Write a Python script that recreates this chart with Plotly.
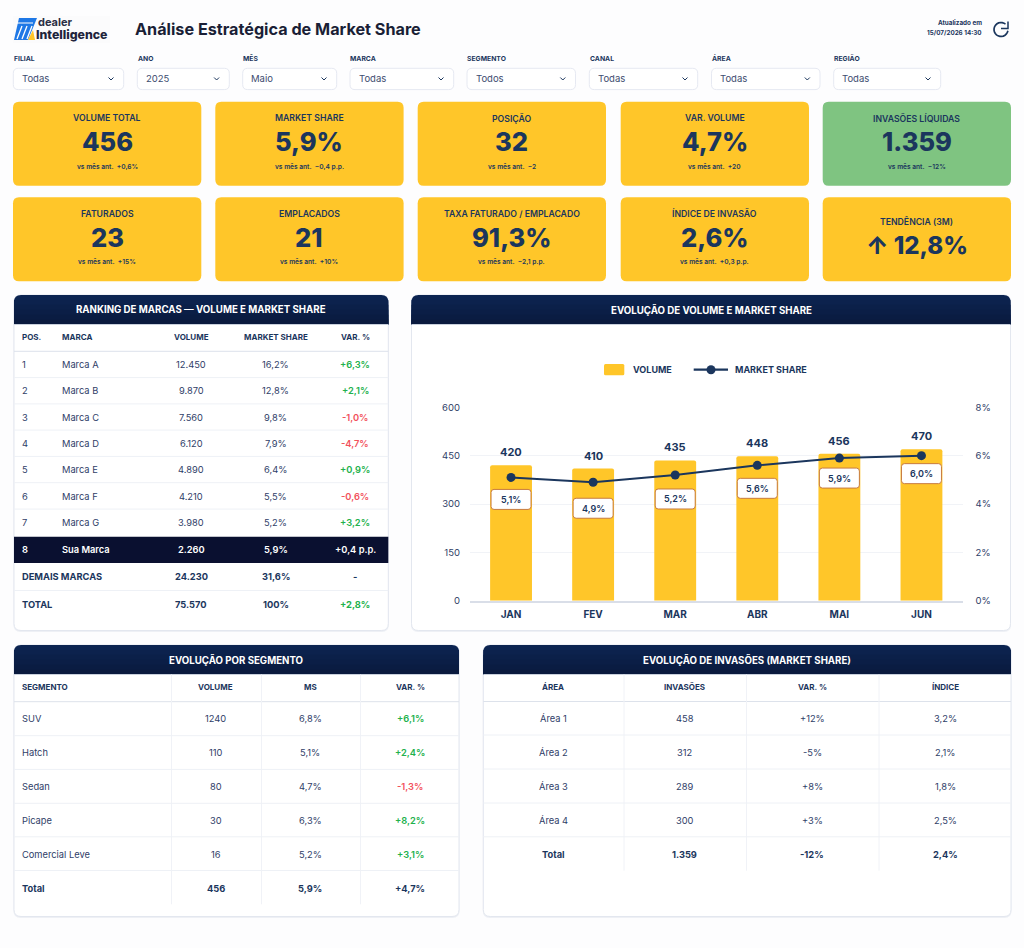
import math
import plotly.graph_objects as go

# ---------- data ----------
MONTHS = ["JAN", "FEV", "MAR", "ABR", "MAI", "JUN"]
VOLUME = [420, 410, 435, 448, 456, 470]
SHARE = [5.1, 4.9, 5.2, 5.6, 5.9, 6.0]

FILTER_LABELS = ["FILIAL", "ANO", "MÊS", "MARCA", "SEGMENTO", "CANAL", "ÁREA", "REGIÃO"]
FILTER_VALUES = ["Todas", "2025", "Maio", "Todas", "Todos", "Todas", "Todas", "Todas"]

KPI_LABELS = ["VOLUME TOTAL", "MARKET SHARE", "POSIÇÃO", "VAR. VOLUME", "INVASÕES LÍQUIDAS",
              "FATURADOS", "EMPLACADOS", "TAXA FATURADO / EMPLACADO", "ÍNDICE DE INVASÃO", "TENDÊNCIA (3M)"]
KPI_VALUES = ["456", "5,9%", "32", "4,7%", "1.359", "23", "21", "91,3%", "2,6%", "↑ 12,8%"]
KPI_SUBS = ["vs mês ant.\u00a0\u00a0+0,6%", "vs mês ant.\u00a0\u00a0−0,4 p.p.", "vs mês ant.\u00a0\u00a0−2",
            "vs mês ant.\u00a0\u00a0+20", "vs mês ant.\u00a0\u00a0−12%", "vs mês ant.\u00a0\u00a0+15%",
            "vs mês ant.\u00a0\u00a0+10%", "vs mês ant.\u00a0\u00a0−2,1 p.p.", "vs mês ant.\u00a0\u00a0+0,3 p.p.", ""]

RANK_HEAD = ["POS.", "MARCA", "VOLUME", "MARKET SHARE", "VAR. %"]
RANK_POS = ["1", "2", "3", "4", "5", "6", "7", "8", "DEMAIS MARCAS", "TOTAL"]
RANK_BRAND = ["Marca A", "Marca B", "Marca C", "Marca D", "Marca E", "Marca F", "Marca G", "Sua Marca", "", ""]
RANK_VOL = ["12.450", "9.870", "7.560", "6.120", "4.890", "4.210", "3.980", "2.260", "24.230", "75.570"]
RANK_MS = ["16,2%", "12,8%", "9,8%", "7,9%", "6,4%", "5,5%", "5,2%", "5,9%", "31,6%", "100%"]
RANK_VAR = ["+6,3%", "+2,1%", "-1,0%", "-4,7%", "+0,9%", "-0,6%", "+3,2%", "+0,4 p.p.", "-", "+2,8%"]

SEG_HEAD = ["SEGMENTO", "VOLUME", "MS", "VAR. %"]
SEG_NAME = ["SUV", "Hatch", "Sedan", "Picape", "Comercial Leve", "Total"]
SEG_VOL = ["1240", "110", "80", "30", "16", "456"]
SEG_MS = ["6,8%", "5,1%", "4,7%", "6,3%", "5,2%", "5,9%"]
SEG_VAR = ["+6,1%", "+2,4%", "-1,3%", "+8,2%", "+3,1%", "+4,7%"]

INV_HEAD = ["ÁREA", "INVASÕES", "VAR. %", "ÍNDICE"]
INV_NAME = ["Área 1", "Área 2", "Área 3", "Área 4", "Total"]
INV_VAL = ["458", "312", "289", "300", "1.359"]
INV_VAR = ["+12%", "-5%", "+8%", "+3%", "-12%"]
INV_IDX = ["3,2%", "2,1%", "1,8%", "2,5%", "2,4%"]

# ---------- style / layout ----------
W, H = 1024, 948
FONT = "Inter"
NAVY = "#1B365D"
BODY = "#2F4068"
DARK = "#1A1F36"
YELLOW = "#FFC629"
GREENCARD = "#7FC481"
GREEN = "#22B14C"
RED = "#F2525C"
LINE = "#EEF1F6"
BORDER = "#E3E7EF"
PILL_OFFSET = [22, 26, 24, 23, 20, 18]  # label box distance below line point, px


def X(v):
    return v / W


def Y(v):
    return 1 - v / H


shapes = []
ann = []


def text(x, y, s, size=10, color=BODY, weight=400, anchor="center"):
    if anchor == "left":
        x -= 1
    ann.append(dict(x=X(x), y=Y(y), xref="paper", yref="paper", text=s, showarrow=False,
                    xanchor=anchor, yanchor="middle", borderpad=0,
                    font=dict(family=FONT, size=size, color=color, weight=weight)))


def rpath(x0, y0, x1, y1, r=5, top_only=False):
    rb = 0 if top_only else r
    s = f"M{X(x0 + r)},{Y(y0)} L{X(x1 - r)},{Y(y0)} Q{X(x1)},{Y(y0)} {X(x1)},{Y(y0 + r)} "
    s += f"L{X(x1)},{Y(y1 - rb)} "
    if rb:
        s += f"Q{X(x1)},{Y(y1)} {X(x1 - rb)},{Y(y1)} "
    s += f"L{X(x0 + rb)},{Y(y1)} "
    if rb:
        s += f"Q{X(x0)},{Y(y1)} {X(x0)},{Y(y1 - rb)} "
    s += f"L{X(x0)},{Y(y0 + r)} Q{X(x0)},{Y(y0)} {X(x0 + r)},{Y(y0)} Z"
    return s


def box(x0, y0, x1, y1, fill="#FFFFFF", line=None, r=5, top_only=False, lw=1):
    shapes.append(dict(type="path", path=rpath(x0, y0, x1, y1, r, top_only), xref="paper", yref="paper",
                       fillcolor=fill, line=dict(color=line or "rgba(0,0,0,0)", width=lw if line else 0),
                       layer="below"))


def rect(x0, y0, x1, y1, fill):
    shapes.append(dict(type="rect", x0=X(x0), x1=X(x1), y0=Y(y0), y1=Y(y1), xref="paper", yref="paper",
                       fillcolor=fill, line=dict(width=0), layer="below"))


def seg(x0, y0, x1, y1, color=LINE, width=1):
    shapes.append(dict(type="line", x0=X(x0), x1=X(x1), y0=Y(y0), y1=Y(y1), xref="paper", yref="paper",
                       line=dict(color=color, width=width), layer="below"))


def poly(points, color=NAVY, width=1.2, fill=None, close=False):
    d = "M" + " L".join(f"{X(a)},{Y(b)}" for a, b in points) + (" Z" if close else "")
    shapes.append(dict(type="path", path=d, xref="paper", yref="paper",
                       fillcolor=fill or "rgba(0,0,0,0)",
                       line=dict(color=color if width else "rgba(0,0,0,0)", width=width), layer="below"))


def panel(x0, y0, x1, y1, title, head_h=29.5):
    box(x0 - 0.5, y0 + 1, x1 + 0.5, y1 + 1.5, fill="#EEF0F5", r=7)
    box(x0, y0, x1, y1, fill="#FFFFFF", line=BORDER, r=7)
    cols = ["#0C2451", "#0C224D", "#0B2049", "#0B1E46", "#0A1C42", "#0A1A3E"]
    h = head_h / len(cols)
    box(x0, y0, x1, y0 + head_h, fill=cols[0], r=7, top_only=True)
    for i in range(1, len(cols)):
        rect(x0, y0 + i * h, x1, y0 + head_h, cols[i])
    seg(x0, y0 + head_h, x1, y0 + head_h, "#C9D0DC", 1)
    text((x0 + x1) / 2, y0 + head_h / 2, title, size=9.7, color="#FFFFFF", weight=700)


# ---------- header ----------
rect(13, 16, 110, 43, "#FBFBFC")
poly([(19, 18), (37, 18), (28, 40), (14, 40)], color="#1E78E6", width=0, fill="#1E78E6", close=True)
for a in (20, 25, 30):
    poly([(a + 2, 26), (a - 3, 39)], color="#FFFFFF", width=1.3)
poly([(16, 23), (33, 23)], color="#FFFFFF", width=1)
poly([(33, 30), (35, 40), (28, 40)], color=YELLOW, width=0, fill=YELLOW, close=True)
text(37.5, 22, "dealer", size=11, color="#2B2F45", weight=700, anchor="left")
text(36, 34.5, "Intelligence", size=12.3, color="#20233B", weight=800, anchor="left")
text(135, 29.5, "Análise Estratégica de Market Share", size=16.2, color=DARK, weight=700, anchor="left")
text(983, 23.5, "Atualizado em", size=6.3, color=NAVY, weight=700, anchor="right")
text(983, 32.5, "15/07/2026 14:30", size=6.3, color=NAVY, weight=700, anchor="right")
# refresh icon
arc = [(1001 + 7 * math.cos(math.radians(t)), 29.5 - 7 * math.sin(math.radians(t))) for t in range(50, 351, 15)]
poly(arc, color=NAVY, width=1.7)
poly([(1008, 21.5), (1008, 28.5), (1001, 28.5)], color=NAVY, width=1.5)

# ---------- filters ----------
FILTER_X = [(13.3, 123.7), (137.3, 229.3), (242.7, 336.7), (350, 453.7),
            (467, 575.5), (589.3, 697.7), (711.5, 820), (833.7, 940.7)]
for (a, b), lab, val in zip(FILTER_X, FILTER_LABELS, FILTER_VALUES):
    text(a + 0.3, 58.5, lab, size=6.8, color=NAVY, weight=700, anchor="left")
    box(a, 68.3, b, 89.6, fill="#FFFFFF", line="#E6E9F2", r=5)
    text(a + 8.7, 78.7, val, size=9.5, color="#3D4C6F", weight=400, anchor="left")
    poly([(b - 15.2, 77.5), (b - 12.7, 80), (b - 10.2, 77.5)], color=NAVY, width=1)

# ---------- KPI cards ----------
CARD_X = [13, 215.3, 417.7, 620.7, 822.7]
CARD_W = 188.3
for i, lab in enumerate(KPI_LABELS):
    row, col = divmod(i, 5)
    x0 = CARD_X[col]
    y0 = 101.7 + row * 95.6
    fill = GREENCARD if i == 4 else YELLOW
    box(x0, y0, x0 + CARD_W, y0 + 84, fill=fill, r=6)
    cx = x0 + CARD_W / 2
    if i == 9:
        text(cx, y0 + 24.3, lab, size=8.7, color=NAVY, weight=600)
        text(cx, y0 + 48, KPI_VALUES[i], size=24, color=NAVY, weight=800)
    else:
        text(cx, y0 + 16.3, lab, size=8.7, color=NAVY, weight=600)
        text(cx, y0 + 39.8, KPI_VALUES[i], size=25.5, color=NAVY, weight=800)
        text(cx, y0 + 65.2, KPI_SUBS[i], size=6.6, color=NAVY, weight=600)

# ---------- ranking table ----------
panel(14, 295, 388.3, 630.5, "RANKING DE MARCAS — VOLUME E MARKET SHARE")
RANK_COLS = (22.3, 62, 191, 275.5, 355)
for j, h in enumerate(RANK_HEAD):
    text(RANK_COLS[j], 336.7, h, size=8, color=NAVY, weight=700, anchor="left" if j < 2 else "center")
seg(14, 351.3, 388.3, 351.3, "#DDE2EB", 1)
RANK_Y = [364.5, 390.8, 417, 443.3, 469.6, 496, 522.3, 549.5, 576.5, 604.3]
rect(14, 536.7, 388.3, 563, "#0A1030")
for i in range(len(RANK_POS)):
    yy = RANK_Y[i]
    own = i == 7
    agg = i >= 8
    if i < 6:
        seg(14, yy + 13.1, 388.3, yy + 13.1)
    if i == 8:
        seg(14, 590.5, 388.3, 590.5)
    c = "#FFFFFF" if own else (NAVY if agg else BODY)
    w = 700 if agg else (600 if own else 400)
    text(RANK_COLS[0], yy, RANK_POS[i], size=9.3, color=c, weight=w, anchor="left")
    text(RANK_COLS[1], yy, RANK_BRAND[i], size=9.3, color=c, weight=w, anchor="left")
    text(RANK_COLS[2], yy, RANK_VOL[i], size=9.3, color=c, weight=w)
    text(RANK_COLS[3], yy, RANK_MS[i], size=9.3, color=c, weight=w)
    v = RANK_VAR[i]
    vc = "#FFFFFF" if own else (NAVY if v == "-" else (GREEN if v.startswith("+") else RED))
    text(RANK_COLS[4], yy, v, size=9.3, color=vc, weight=600 if not agg else 700)

# ---------- chart panel ----------
panel(411.5, 295, 1010.5, 630.5, "EVOLUÇÃO DE VOLUME E MARKET SHARE")
box(604, 364, 624.3, 375.3, fill=YELLOW, r=1.5)
text(632.5, 369.7, "VOLUME", size=9, color=NAVY, weight=700, anchor="left")
seg(693.7, 369.7, 728, 369.7, NAVY, 2.2)
shapes.append(dict(type="circle", x0=X(706.5), x1=X(715.5), y0=Y(365.2), y1=Y(374.2), xref="paper", yref="paper",
                   fillcolor=NAVY, line=dict(width=0), layer="below"))
text(735.3, 369.7, "MARKET SHARE", size=9, color=NAVY, weight=700, anchor="left")

fig = go.Figure()
fig.add_trace(go.Bar(x=MONTHS, y=VOLUME, name="Volume", marker=dict(color=YELLOW, cornerradius=2, line=dict(width=0)),
                     hoverinfo="skip", yaxis="y"))
fig.add_trace(go.Scatter(x=MONTHS, y=SHARE, name="Market Share", mode="lines+markers", yaxis="y2",
                         line=dict(color=NAVY, width=2), marker=dict(color=NAVY, size=9), hoverinfo="skip"))

for m, v, s, off in zip(MONTHS, VOLUME, SHARE, PILL_OFFSET):
    ann.append(dict(x=m, y=v, xref="x", yref="y", text=str(v), showarrow=False, yshift=13, yanchor="middle",
                    font=dict(family=FONT, size=11, color=NAVY, weight=700)))
    bw, bh, r = 20, 10, 3
    yc = -off
    d = (f"M{-bw + r},{yc + bh} L{bw - r},{yc + bh} Q{bw},{yc + bh} {bw},{yc + bh - r} L{bw},{yc - bh + r} "
         f"Q{bw},{yc - bh} {bw - r},{yc - bh} L{-bw + r},{yc - bh} Q{-bw},{yc - bh} {-bw},{yc - bh + r} "
         f"L{-bw},{yc + bh - r} Q{-bw},{yc + bh} {-bw + r},{yc + bh} Z")
    shapes.append(dict(type="path", path=d, xref="x", yref="y2", xsizemode="pixel", ysizemode="pixel",
                       xanchor=m, yanchor=s, fillcolor="#FFFFFF", line=dict(color="#C77B3F", width=1), layer="above"))
    ann.append(dict(x=m, y=s, xref="x", yref="y2", text=f"{s:.1f}%".replace(".", ","), showarrow=False,
                    yshift=-off, yanchor="middle",
                    font=dict(family=FONT, size=9, color=NAVY, weight=600)))

# ---------- segment table ----------
panel(14, 645, 459, 916.5, "EVOLUÇÃO POR SEGMENTO")
SEG_COLS = (22.3, 215.5, 310, 410)
text(SEG_COLS[0], 687, SEG_HEAD[0], size=8, color=NAVY, weight=700, anchor="left")
for j in (1, 2, 3):
    text(SEG_COLS[j], 687, SEG_HEAD[j], size=8, color=NAVY, weight=700)
seg(14, 701.7, 459, 701.7, "#DDE2EB", 1)
for xs in (171.5, 261.5, 360.5):
    seg(xs, 674.5, xs, 904.3, "#F0F2F7", 1)
SEG_Y = [718.5, 752, 786, 820, 854, 888]
for yl in (735.7, 769.4, 803.3, 836.8, 870.5):
    seg(14, yl, 459, yl)
for i, n in enumerate(SEG_NAME):
    tot = i == len(SEG_NAME) - 1
    c = NAVY if tot else BODY
    w = 700 if tot else 400
    text(SEG_COLS[0], SEG_Y[i], n, size=9.3, color=c, weight=w, anchor="left")
    text(SEG_COLS[1], SEG_Y[i], SEG_VOL[i], size=9.3, color=c, weight=w)
    text(SEG_COLS[2], SEG_Y[i], SEG_MS[i], size=9.3, color=c, weight=w)
    vc = NAVY if tot else (GREEN if SEG_VAR[i].startswith("+") else RED)
    text(SEG_COLS[3], SEG_Y[i], SEG_VAR[i], size=9.3, color=vc, weight=700 if tot else 600)

# ---------- invasions table ----------
panel(483.3, 645, 1011, 916.5, "EVOLUÇÃO DE INVASÕES (MARKET SHARE)")
INV_COLS = (553, 684.5, 812, 945)
for j in range(4):
    text(INV_COLS[j], 687, INV_HEAD[j], size=8, color=NAVY, weight=700)
seg(483.3, 701.5, 1011, 701.5, "#DDE2EB", 1)
for xs in (624, 746.5, 879):
    seg(xs, 674.5, xs, 870.7, "#F0F2F7", 1)
for yl in (735, 769, 803, 836.8):
    seg(483.3, yl, 1011, yl)
for i, n in enumerate(INV_NAME):
    tot = i == len(INV_NAME) - 1
    c = NAVY if tot else BODY
    w = 700 if tot else 400
    for cx, v in zip(INV_COLS, (n, INV_VAL[i], INV_VAR[i], INV_IDX[i])):
        text(cx, SEG_Y[i], v, size=9.3, color=c, weight=w)

# ---------- layout ----------
fig.update_layout(
    width=W, height=H, autosize=False, margin=dict(l=0, r=0, t=0, b=0, pad=0, autoexpand=False),
    paper_bgcolor="#FDFDFE", plot_bgcolor="rgba(0,0,0,0)", showlegend=False,
    bargap=0.49, shapes=shapes, annotations=ann,
    font=dict(family=FONT, color=NAVY),
    xaxis=dict(domain=[X(470), X(962.5)], type="category", categoryorder="array", categoryarray=MONTHS,
               automargin=False, showgrid=False, zeroline=False, showline=True, linecolor="#D9DEE8", linewidth=2,
               ticks="", tickfont=dict(family=FONT, size=10, color=NAVY, weight=700), ticklabelstandoff=3,
               fixedrange=True),
    yaxis=dict(domain=[Y(600.7), Y(407.3)], range=[0, 600], dtick=150, gridcolor="#F1F3F7", gridwidth=1,
               automargin=False, zeroline=False, showline=False, ticks="",
               tickfont=dict(family=FONT, size=9.5, color=BODY), ticklabelstandoff=9, fixedrange=True),
    yaxis2=dict(domain=[Y(600.7), Y(407.3)], range=[0, 8], dtick=2, ticksuffix="%", overlaying="y", side="right",
                automargin=False, showgrid=False, zeroline=False, showline=False, ticks="",
                tickfont=dict(family=FONT, size=9.5, color=BODY), ticklabelstandoff=12, fixedrange=True),
)

fig.write_html("out.html", config=dict(displayModeBar=False),
               post_script="document.body.style.margin='0';document.body.style.overflow='hidden';")
